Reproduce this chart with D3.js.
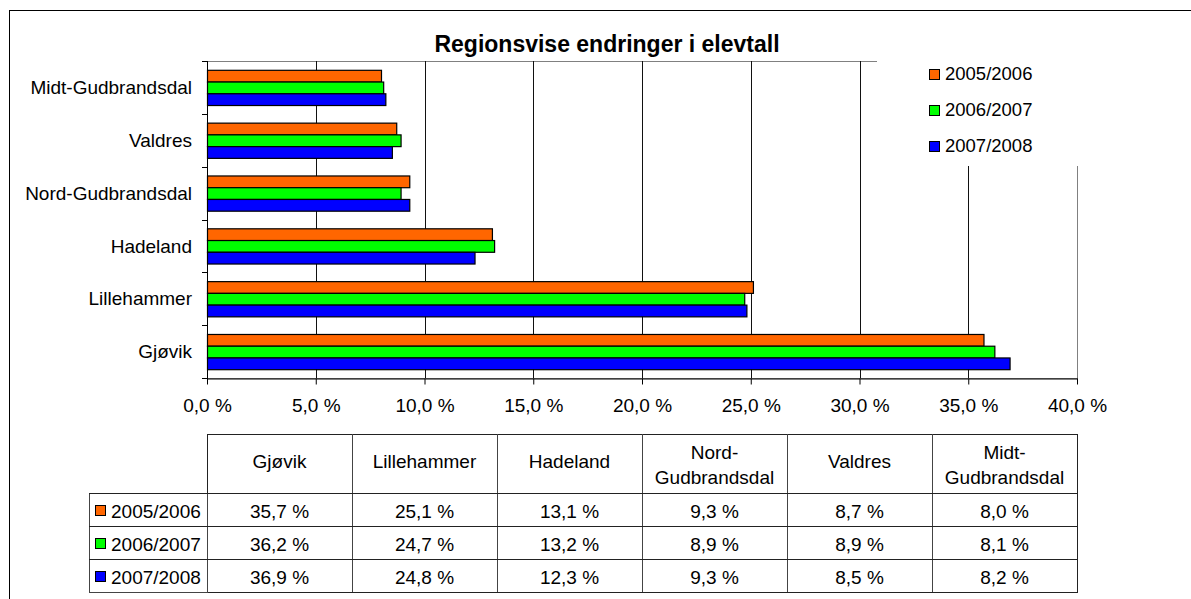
<!DOCTYPE html>
<html>
<head>
<meta charset="utf-8">
<script src="https://cdn.jsdelivr.net/npm/d3@7"></script>
<style>
  body { margin: 0; background: #fff; }
  svg { display: block; font-family: "Liberation Sans", Arial, sans-serif; }
</style>
</head>
<body>
<script>
var categories = ['Gjøvik', 'Lillehammer', 'Hadeland', 'Nord-Gudbrandsdal', 'Valdres', 'Midt-Gudbrandsdal'];
var seriesNames = ['2005/2006', '2006/2007', '2007/2008'];
var seriesColors = ['#FF6600', '#00FF00', '#0000FF'];
var values2005 = [35.7, 25.1, 13.1, 9.3, 8.7, 8.0];
var values2006 = [36.2, 24.7, 13.2, 8.9, 8.9, 8.1];
var values2007 = [36.9, 24.8, 12.3, 9.3, 8.5, 8.2];
var xTicks = [0, 5, 10, 15, 20, 25, 30, 35, 40];

var seriesValues = [values2005, values2006, values2007];
var pct = (d) => d3.format('.1f')(d).replace('.', ',') + ' %';
var fontSize = 19;

window.document.addEventListener('DOMContentLoaded', init, false);

function init() {
    var svg = d3.select('body').append('svg')
        .attr('width', 1191)
        .attr('height', 599);

    // outer frame
    svg.append('rect')
        .attr('x', 9.5).attr('y', 10.5)
        .attr('width', 1300).attr('height', 700)
        .attr('fill', '#fff')
        .attr('stroke', '#000');

    var left = 207, right = 1077, top = 61, bottom = 378;

    var x = d3.scaleLinear().domain([0, 40]).range([left, right]);
    var y0 = d3.scaleBand()
        .domain(categories.slice().reverse())
        .range([top, bottom])
        .paddingInner(1 / 3)
        .paddingOuter(1 / 6);
    var y1 = d3.scaleBand().domain(seriesNames).range([0, y0.bandwidth()]);

    // plot frame + grid
    svg.append('rect')
        .attr('x', left + 0.5).attr('y', top + 0.5)
        .attr('width', right - left).attr('height', bottom - top)
        .attr('fill', 'none')
        .attr('stroke', '#808080');

    svg.append('g').selectAll('line')
        .data(xTicks.slice(1, -1))
        .enter().append('line')
        .attr('x1', (d) => Math.round(x(d)) + 0.5)
        .attr('x2', (d) => Math.round(x(d)) + 0.5)
        .attr('y1', top).attr('y2', bottom)
        .attr('stroke', '#111');

    // bars
    var groups = svg.append('g').selectAll('g')
        .data(categories)
        .enter().append('g')
        .attr('transform', (d) => `translate(0,${y0(d)})`);

    groups.selectAll('rect')
        .data((c, i) => seriesNames.map((s, j) => ({ s: s, j: j, v: seriesValues[j][i] })))
        .enter().append('rect')
        .attr('x', x(0) + 0.5)
        .attr('y', (d) => y1(d.s) + 0.5)
        .attr('width', (d) => x(d.v) - x(0))
        .attr('height', y1.bandwidth())
        .attr('fill', (d) => seriesColors[d.j])
        .attr('stroke', '#000')
        .attr('stroke-width', 1.2);

    // legend box (covers grid)
    svg.append('rect')
        .attr('x', 877).attr('y', 40)
        .attr('width', 230).attr('height', 126)
        .attr('fill', '#fff');

    var legend = svg.append('g').selectAll('g')
        .data(seriesNames)
        .enter().append('g')
        .attr('transform', (d, i) => `translate(929,${69 + i * 36})`);
    legend.append('rect')
        .attr('x', 0.5).attr('y', 0.5)
        .attr('width', 10).attr('height', 10)
        .attr('fill', (d, i) => seriesColors[i])
        .attr('stroke', '#000');
    legend.append('text')
        .attr('x', 16).attr('y', 11)
        .attr('font-size', 18.5)
        .text((d) => d);

    // axes
    var xAxis = svg.append('g')
        .attr('transform', `translate(0,${bottom + 0.5})`)
        .call(d3.axisBottom(x).tickValues(xTicks).tickFormat(pct).tickSize(6).tickSizeOuter(0));
    xAxis.select('.domain').attr('stroke', '#000');
    xAxis.selectAll('text')
        .attr('font-size', fontSize)
        .attr('font-family', '"Liberation Sans", Arial, sans-serif')
        .attr('fill', '#000')
        .attr('dy', '1.27em');

    svg.append('line')
        .attr('x1', left + 0.5).attr('x2', left + 0.5)
        .attr('y1', top).attr('y2', bottom + 6)
        .attr('stroke', '#000');

    var step = y0.step();
    svg.append('g').selectAll('line')
        .data(d3.range(categories.length + 1))
        .enter().append('line')
        .attr('x1', left - 5).attr('x2', left)
        .attr('y1', (d) => Math.round(top + d * step) + 0.5)
        .attr('y2', (d) => Math.round(top + d * step) + 0.5)
        .attr('stroke', '#000');

    svg.append('g').selectAll('text')
        .data(categories)
        .enter().append('text')
        .attr('x', 192)
        .attr('y', (d) => y0(d) + y0.bandwidth() / 2)
        .attr('dy', '0.35em')
        .attr('text-anchor', 'end')
        .attr('font-size', fontSize)
        .text((d) => d);

    // title
    svg.append('text')
        .attr('x', 607).attr('y', 52)
        .attr('text-anchor', 'middle')
        .attr('font-size', 23)
        .attr('font-weight', 'bold')
        .text('Regionsvise endringer i elevtall');

    drawTable(svg, left, right);
}

function drawTable(svg, left, right) {
    var col = d3.scaleBand().domain(categories).range([left, right]);
    var headTop = 434, headBottom = 493, rowH = 33;
    var tableBottom = headBottom + rowH * seriesNames.length;
    var g = svg.append('g');

    // lines
    g.append('rect')
        .attr('x', left + 0.5).attr('y', headTop + 0.5)
        .attr('width', right - left).attr('height', tableBottom - headTop)
        .attr('fill', 'none').attr('stroke', '#222');
    g.append('rect')
        .attr('x', 89.5).attr('y', headBottom + 0.5)
        .attr('width', left - 89).attr('height', tableBottom - headBottom)
        .attr('fill', 'none').attr('stroke', '#444');
    g.selectAll('.vline')
        .data(categories.slice(1))
        .enter().append('line')
        .attr('x1', (d) => Math.round(col(d)) + 0.5)
        .attr('x2', (d) => Math.round(col(d)) + 0.5)
        .attr('y1', headTop).attr('y2', tableBottom)
        .attr('stroke', '#444');
    g.selectAll('.hline')
        .data(d3.range(seriesNames.length))
        .enter().append('line')
        .attr('x1', 89).attr('x2', right)
        .attr('y1', (d) => headBottom + d * rowH + 0.5)
        .attr('y2', (d) => headBottom + d * rowH + 0.5)
        .attr('stroke', '#222');

    // header
    var head = g.selectAll('.head')
        .data(categories)
        .enter().append('text')
        .attr('text-anchor', 'middle')
        .attr('font-size', fontSize);
    head.each(function(d) {
        var parts = d.indexOf('-') > 0 ? [d.slice(0, d.indexOf('-') + 1), d.slice(d.indexOf('-') + 1)] : [d];
        var cx = col(d) + col.bandwidth() / 2;
        var cy = (headTop + headBottom) / 2 + (parts.length > 1 ? 1.5 : -2);
        d3.select(this).selectAll('tspan')
            .data(parts)
            .enter().append('tspan')
            .attr('x', cx)
            .attr('y', (p, i) => cy + (i - (parts.length - 1) / 2) * 25)
            .attr('dy', '0.35em')
            .text((p) => p);
    });

    // rows
    seriesNames.forEach((s, j) => {
        var cy = headBottom + j * rowH + rowH / 2;
        g.append('rect')
            .attr('x', 95.5).attr('y', cy - 4)
            .attr('width', 10).attr('height', 10)
            .attr('fill', seriesColors[j]).attr('stroke', '#000');
        g.append('text')
            .attr('x', 111).attr('y', cy + 2)
            .attr('dy', '0.35em')
            .attr('font-size', fontSize)
            .text(s);
        g.selectAll('.v' + j)
            .data(seriesValues[j])
            .enter().append('text')
            .attr('x', (d, i) => col(categories[i]) + col.bandwidth() / 2)
            .attr('y', cy + 2)
            .attr('dy', '0.35em')
            .attr('text-anchor', 'middle')
            .attr('font-size', fontSize)
            .text(pct);
    });
}
</script>
</body>
</html>
